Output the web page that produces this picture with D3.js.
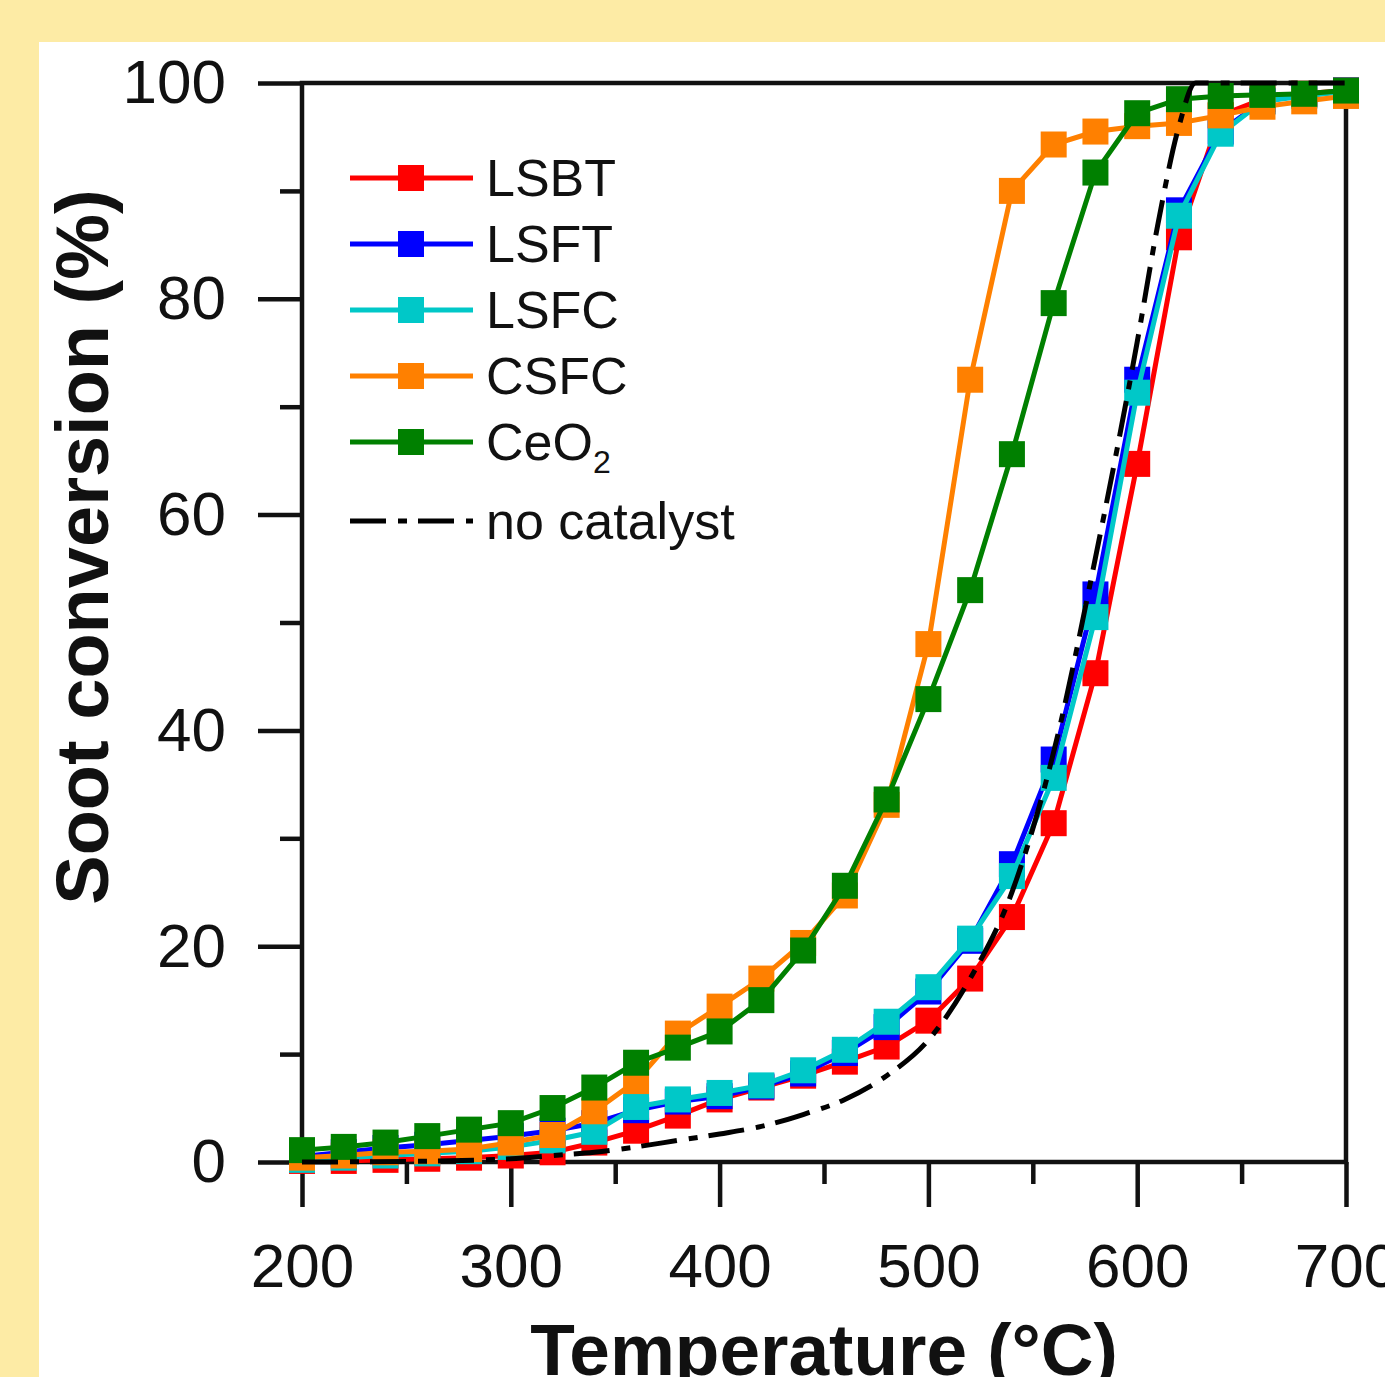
<html>
<head>
<meta charset="UTF-8" />
<script src="https://d3js.org/d3.v7.min.js"></script>
<style>
  body { margin: 0; background: #fdeba5; }
  svg { display: block; }
</style>
</head>
<body>
<svg id="svg"></svg>
<script>
  // temperatures (°C) sampled every 20 degrees
  var temps = [200, 220, 240, 260, 280, 300, 320, 340, 360, 380, 400, 420, 440,
               460, 480, 500, 520, 540, 560, 580, 600, 620, 640, 660, 680, 700];

  var lsbt = [0.1, 0.1, 0.2, 0.3, 0.4, 0.6, 0.9, 1.8, 2.9, 4.3, 5.8, 6.9, 8.0,
              9.3, 10.7, 13.1, 17.0, 22.7, 31.4, 45.3, 64.7, 85.7, 97.0, 98.5, 99.0, 99.3];
  var lsft = [0.5, 0.9, 1.3, 1.6, 2.0, 2.4, 2.9, 3.6, 4.8, 5.6, 6.1, 7.0, 8.2,
              10.1, 12.5, 15.8, 20.5, 27.6, 37.3, 52.6, 72.5, 88.2, 95.5, 98.3, 98.9, 99.3];
  var lsfc = [0.2, 0.4, 0.6, 0.8, 1.0, 1.4, 2.0, 2.8, 5.1, 5.8, 6.4, 7.1, 8.5,
              10.4, 13.0, 16.2, 20.7, 26.5, 35.6, 50.5, 71.3, 87.7, 95.3, 98.3, 98.8, 99.2];
  var csfc = [0.4, 0.6, 0.9, 1.0, 1.2, 1.8, 2.5, 4.7, 7.5, 11.9, 14.4, 17.0, 20.3,
              24.7, 33.1, 48.0, 72.5, 90.0, 94.3, 95.5, 96.0, 96.3, 97.0, 97.8, 98.3, 98.8];
  var ceo2 = [1.1, 1.4, 1.8, 2.4, 3.0, 3.6, 5.0, 6.9, 9.2, 10.6, 12.1, 15.0, 19.6,
              25.6, 33.6, 42.9, 53.0, 65.6, 79.6, 91.7, 97.2, 98.5, 98.8, 98.9, 99.0, 99.3];

  // no catalyst curve (no markers)
  var noCatT = [200, 250, 300, 320, 340, 360, 380, 400, 420, 440, 460, 480, 500,
                520, 540, 560, 580, 600, 610, 620, 628, 700];
  var noCatV = [0, 0.05, 0.3, 0.6, 0.9, 1.4, 2.0, 2.6, 3.3, 4.4, 5.8, 8.0, 11.3,
                17.0, 25.0, 38.0, 56.0, 76.0, 87.0, 96.0, 100, 100];

  var names = ["LSBT", "LSFT", "LSFC", "CSFC", "CeO2"];
  var colors = ["#ff0000", "#0000ff", "#00c8c8", "#ff8000", "#008000"];
  var seriesVals = [lsbt, lsft, lsfc, csfc, ceo2];

  var yMajor = [0, 20, 40, 60, 80, 100];
  var yMinor = [10, 30, 50, 70, 90];
  var xMajor = [200, 300, 400, 500, 600, 700];
  var xMinor = [250, 350, 450, 550, 650];

  var width = 1385, height = 1377;
  var svg = d3.select("#svg").attr("width", width).attr("height", height);

  // white panel on the yellow page
  svg.append("rect")
    .attr("x", 39).attr("y", 42)
    .attr("width", width - 39).attr("height", height - 42)
    .attr("fill", "white");

  var x = d3.scaleLinear().domain([200, 700]).range([302, 1346]);
  var y = d3.scaleLinear().domain([0, 100]).range([1162, 83]);

  var font = "'Liberation Sans', Arial, sans-serif";

  // axes
  var gy = svg.append("g").attr("transform", "translate(" + x(200) + ",0)")
    .call(d3.axisLeft(y).tickValues(yMajor).tickSize(44).tickPadding(32));
  var gyMinor = svg.append("g").attr("transform", "translate(" + x(200) + ",0)")
    .call(d3.axisLeft(y).tickValues(yMinor).tickSize(22).tickFormat(""));
  var gx = svg.append("g").attr("transform", "translate(0," + y(0) + ")")
    .call(d3.axisBottom(x).tickValues(xMajor).tickSize(45).tickPadding(36));
  var gxMinor = svg.append("g").attr("transform", "translate(0," + y(0) + ")")
    .call(d3.axisBottom(x).tickValues(xMinor).tickSize(22).tickFormat(""));

  [gy, gyMinor, gx, gxMinor].forEach(function (g) {
    g.select(".domain").remove();
    g.selectAll("line").attr("stroke", "#111").attr("stroke-width", 4.5);
    g.selectAll("text").attr("fill", "#111")
      .style("font-family", font).style("font-size", "62px");
  });

  // frame
  svg.append("rect")
    .attr("x", x(200)).attr("y", y(100))
    .attr("width", x(700) - x(200)).attr("height", y(0) - y(100))
    .attr("fill", "none").attr("stroke", "#111").attr("stroke-width", 4.5);

  // axis titles
  svg.append("text")
    .attr("x", (x(200) + x(700)) / 2).attr("y", 1375)
    .attr("text-anchor", "middle")
    .style("font-family", font).style("font-size", "73px").style("font-weight", "bold")
    .attr("fill", "#111")
    .text("Temperature (°C)");

  svg.append("text")
    .attr("transform", "translate(108,547) rotate(-90)")
    .attr("text-anchor", "middle")
    .style("font-family", font).style("font-size", "74px").style("font-weight", "bold")
    .attr("fill", "#111")
    .text("Soot conversion (%)");

  var line = d3.line().x(function (d) { return x(d[0]); }).y(function (d) { return y(d[1]); });
  var msize = 26;

  // series: lines + square markers
  seriesVals.forEach(function (vals, i) {
    var pts = temps.map(function (t, k) { return [t, vals[k]]; });
    var g = svg.append("g");
    g.append("path").datum(pts)
      .attr("d", line)
      .attr("fill", "none")
      .attr("stroke", colors[i])
      .attr("stroke-width", 5);
    g.selectAll("rect").data(pts).enter().append("rect")
      .attr("x", function (d) { return x(d[0]) - msize / 2; })
      .attr("y", function (d) { return y(d[1]) - msize / 2; })
      .attr("width", msize).attr("height", msize)
      .attr("fill", colors[i]);
  });

  // no catalyst
  var noCat = noCatT.map(function (t, k) { return [t, noCatV[k]]; });
  svg.append("path").datum(noCat)
    .attr("d", line.curve(d3.curveMonotoneX))
    .attr("fill", "none")
    .attr("stroke", "#000")
    .attr("stroke-width", 5)
    .attr("stroke-dasharray", "36,12,9,11");

  // legend
  var legend = svg.append("g");
  names.forEach(function (n, i) {
    var ly = 178 + i * 66;
    legend.append("line")
      .attr("x1", 350).attr("x2", 473).attr("y1", ly).attr("y2", ly)
      .attr("stroke", colors[i]).attr("stroke-width", 5);
    legend.append("rect")
      .attr("x", 411 - msize / 2).attr("y", ly - msize / 2)
      .attr("width", msize).attr("height", msize)
      .attr("fill", colors[i]);
    var t = legend.append("text")
      .attr("x", 486).attr("y", ly + 18)
      .attr("fill", "#111")
      .style("font-family", font).style("font-size", "52px");
    if (n === "CeO2") {
      t.append("tspan").text("CeO");
      t.append("tspan").attr("dy", 13).style("font-size", "32px").text("2");
    } else {
      t.text(n);
    }
  });
  legend.append("line")
    .attr("x1", 350).attr("x2", 473).attr("y1", 521).attr("y2", 521)
    .attr("stroke", "#000").attr("stroke-width", 5)
    .attr("stroke-dasharray", "36,12,9,11");
  legend.append("text")
    .attr("x", 486).attr("y", 539)
    .attr("fill", "#111")
    .style("font-family", font).style("font-size", "52px")
    .text("no catalyst");
</script>
</body>
</html>
